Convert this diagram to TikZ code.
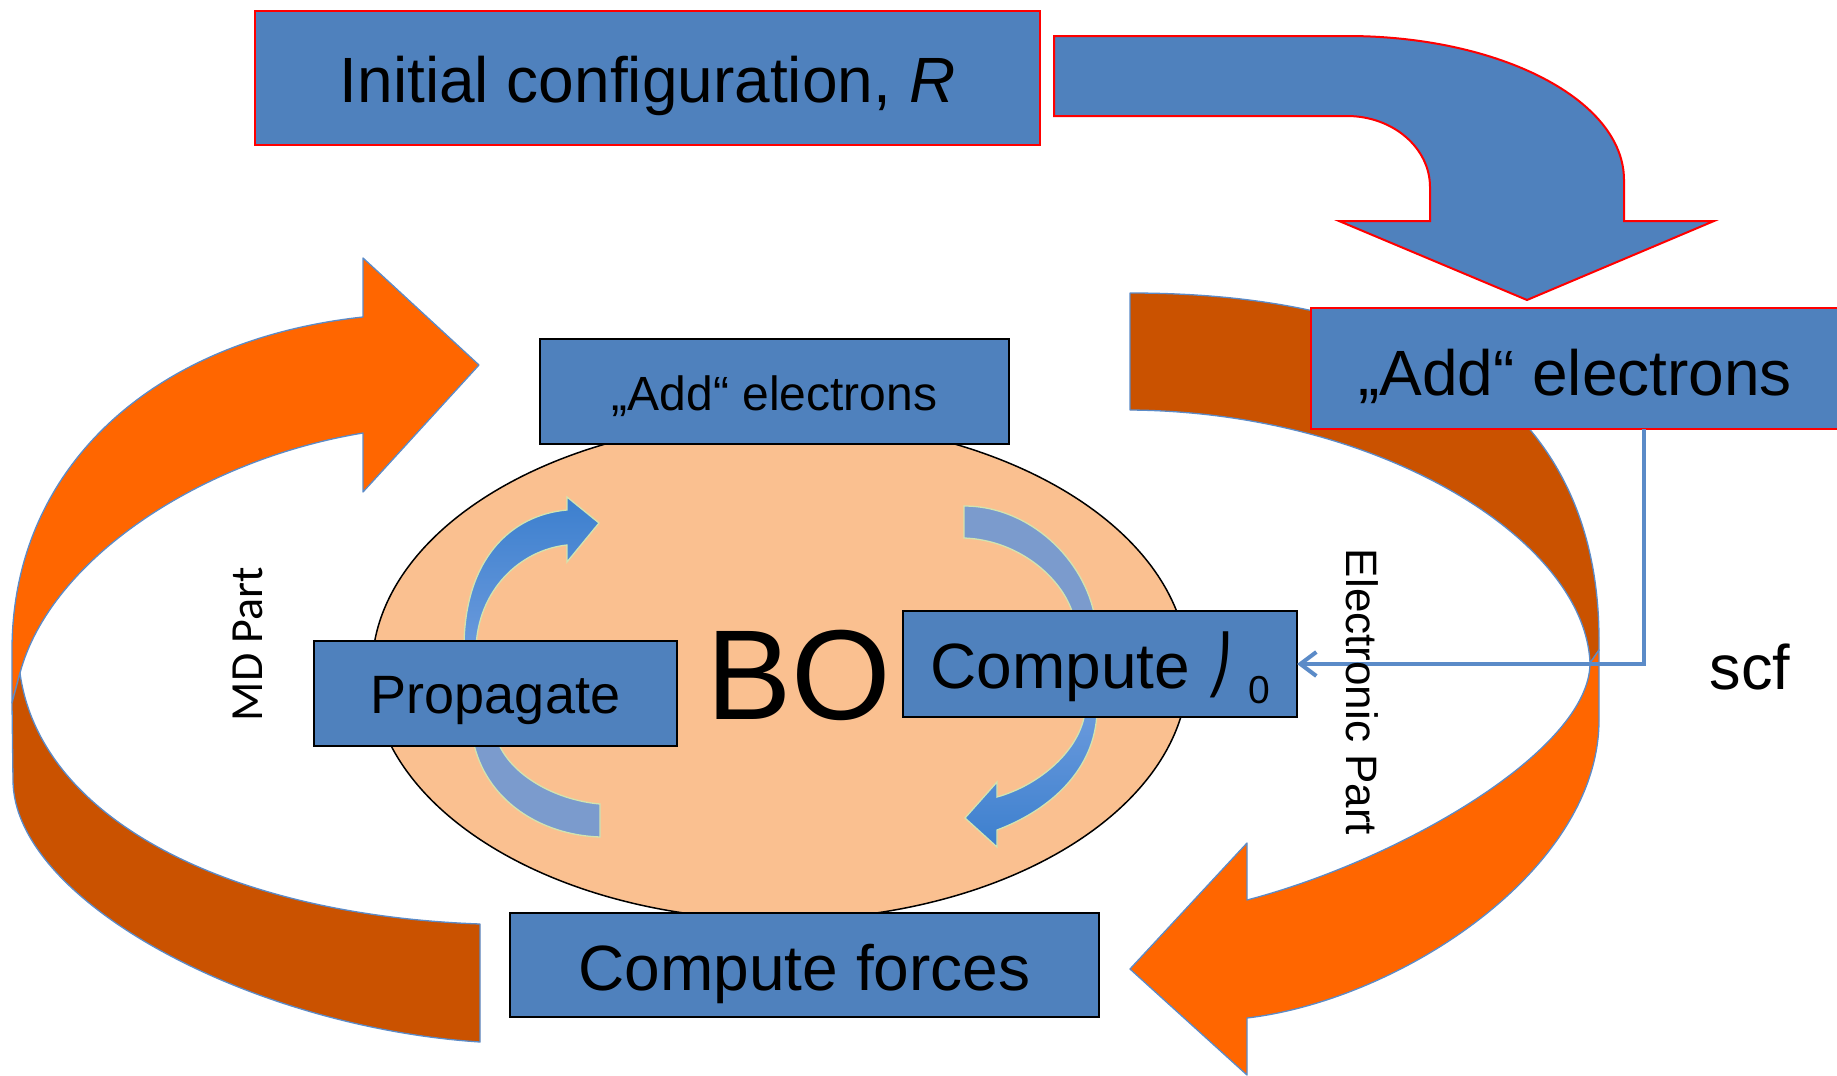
\documentclass[tikz,border=0pt]{standalone}
\usepackage{fontspec}
\setmainfont{Liberation Sans}
\newfontfamily\carlitofont{Carlito}
\newfontfamily\dejavufont{DejaVu Sans}
\usetikzlibrary{shapes.geometric,arrows.meta}
\definecolor{boxblue}{HTML}{4F81BD}
\definecolor{orbright}{HTML}{FF6600}
\definecolor{ordark}{HTML}{CA5200}
\definecolor{peach}{HTML}{FAC090}
\definecolor{arcblue}{HTML}{7B9BCD}
\definecolor{arrdark}{HTML}{3C7FCE}
\definecolor{arrlight}{HTML}{6A9ADC}
\definecolor{paleoutline}{HTML}{D2E4B0}
\definecolor{edgeblue}{HTML}{5B8BC8}
\newcommand\setfs[1]{\fontsize{#1}{#1}\selectfont}
\tikzset{
  bluebox/.style={draw=black, line width=1.6pt, fill=boxblue, inner sep=0pt, outer sep=0pt, align=center},
  redbox/.style={bluebox, draw=red, line width=2pt},
  orangebright/.style={fill=orbright, draw=edgeblue, line width=1.3pt, line join=round},
  orangedark/.style={fill=ordark, draw=edgeblue, line width=1.3pt, line join=round},
  bentarrow/.style={fill=boxblue, draw=red, line width=2pt, line join=miter},
  lightarc/.style={fill=arcblue, draw=paleoutline, line width=1.3pt},
  upblue/.style={top color=arrdark, bottom color=arrlight, draw=paleoutline, line width=1.3pt},
  downblue/.style={top color=arrlight, bottom color=arrdark, draw=paleoutline, line width=1.3pt},
  scfline/.style={draw=edgeblue, line width=4pt, -{Straight Barb[length=16pt,width=24pt]}},
  plainlabel/.style={inner sep=0pt, outer sep=0pt}
}
\begin{document}
\begin{tikzpicture}[x=1pt, y=-1pt]
\useasboundingbox (0,0) rectangle (1837,1076);
\fill[white] (0,0) rectangle (1837,1076);

% left orange arrow (MD part)
\path[orangebright] (12,703) -- (12,650) .. controls (12,470) and (150,340) .. (363,317) -- (363,258) -- (479,365) -- (363,492) -- (363,433) .. controls (200,460) and (50,560) .. (20,673) -- cycle;
\path[orangedark] (20,673) .. controls (40,820) and (230,915) .. (480,924) -- (480,1042) .. controls (250,1027) and (13,900) .. (13,780) -- (12,703) -- cycle;

% right orange arrow (electronic part)
\path[orangedark] (1130,293) .. controls (1435,293) and (1599,414) .. (1599,640) -- (1599,650) -- (1590,663) .. controls (1585,540) and (1380,412) .. (1130,410) -- cycle;
\path[orangebright] (1599,650) -- (1599,720) .. controls (1599,870) and (1400,1000) .. (1247,1018) -- (1247,1075) -- (1130,969) -- (1247,843) -- (1247,900) .. controls (1400,860) and (1590,750) .. (1590,663) -- cycle;

% bent blue arrow
\path[bentarrow] (1054,36) -- (1347,36) .. controls (1500,36) and (1624,100) .. (1624,180) -- (1624,221) -- (1714,221) -- (1527,300) -- (1339,221) -- (1430,221) -- (1430,187) .. controls (1430,148) and (1393,116) .. (1347,116) -- (1054,116) -- cycle;

% BO ellipse
\node[ellipse, draw=black, line width=1.5pt, fill=peach, minimum width=816pt, minimum height=500pt, inner sep=0pt] (boell) at (780,670) {};

% inner arrows
\path[upblue] (464,648) .. controls (464,560) and (510,515) .. (567,510) -- (567,497) -- (599,523) -- (567,562) -- (567,545) .. controls (520,550) and (478,590) .. (476,648) -- cycle;
\path[lightarc] (473,740) .. controls (485,800) and (540,835) .. (600,837) -- (600,804) .. controls (555,800) and (510,775) .. (497,740) -- cycle;
\path[lightarc] (964,538) -- (964,506) .. controls (1030,506) and (1085,560) .. (1095,618) -- (1074,618) .. controls (1065,580) and (1020,540) .. (964,538) -- cycle;
\path[downblue] (1097,712) .. controls (1095,770) and (1050,810) .. (997,830) -- (997,847) -- (965,818) -- (997,782) -- (997,797) .. controls (1040,785) and (1080,750) .. (1085,712) -- cycle;

% boxes
\node[redbox, minimum width=785pt, minimum height=134pt, text height=60pt, text depth=12pt] (init) at (647.5,78) {\setfs{64}Initial configuration, \textit{R}};
\node[redbox, minimum width=528pt, minimum height=121pt, text height=62pt, text depth=9pt] (addbig) at (1575,368.5) {\setfs{64}„Add“ electrons};
\node[bluebox, minimum width=469pt, minimum height=105pt, text height=46pt, text depth=9pt] (addsmall) at (774.5,391.5) {\setfs{48}„Add“ electrons};
\node[bluebox, minimum width=363pt, minimum height=105pt, text height=49pt, text depth=10pt] (prop) at (495.5,693.5) {\setfs{54}Propagate};
\node[bluebox, minimum width=394pt, minimum height=106pt, text height=58pt, text depth=10pt] (compute) at (1100,664) {\setfs{64}Compute\makebox[58pt][c]{\raisebox{4pt}{\setfs{56}\dejavufont ⎠}}\raisebox{-15pt}{\setfs{39}0}};
\node[bluebox, minimum width=589pt, minimum height=104pt, text height=60pt, text depth=10pt] (forces) at (804.5,965) {\setfs{64}Compute forces};

% scf connector
\coordinate (scfturn) at (1644,664);
\draw[scfline] (addbig.south -| scfturn) -- (scfturn) -- (compute.east);

% labels
\node[plainlabel, anchor=base] (botext) at (799,719) {\setfs{128}BO};
\node[plainlabel, anchor=base] (scftext) at (1750,689) {\setfs{63}scf};
\node[plainlabel, rotate=90] (mdpart) at (248,644) {\carlitofont\setfs{46}MD Part};
\node[plainlabel, rotate=-90] (elpart) at (1362,692) {\setfs{44}Electronic Part};
\end{tikzpicture}
\end{document}
